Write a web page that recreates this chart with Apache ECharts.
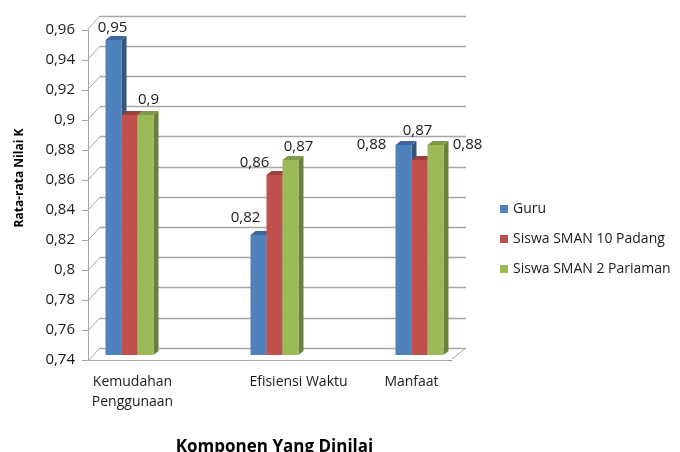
<!DOCTYPE html>
<html>
<head>
<meta charset="utf-8">
<script src="https://cdn.jsdelivr.net/npm/echarts@6/dist/echarts.min.js"></script>
<style>
html, body { margin: 0; padding: 0; background: #fff; }
#chart { width: 680px; height: 452px; }
</style>
</head>
<body>
<div id="chart"></div>
<script>
// data
var categories = ['Kemudahan\nPenggunaan', 'Efisiensi Waktu', 'Manfaat'];
var seriesNames = ['Guru', 'Siswa SMAN 10 Padang', 'Siswa SMAN 2 Pariaman'];
var guruValues = [0.95, 0.82, 0.88];
var padangValues = [0.90, 0.86, 0.87];
var pariamanValues = [0.90, 0.87, 0.88];
var yTicks = [0.74, 0.76, 0.78, 0.80, 0.82, 0.84, 0.86, 0.88, 0.90, 0.92, 0.94, 0.96];
var yMin = 0.74, yMax = 0.96, yStep = 0.02;

// style
var FONT = '"Open Sans", "Noto Sans", sans-serif';
var BAR_W = 16;   // bar front width
var DX = 5, DY = 4; // 3d depth of the bars
var palette = [
	{front: '#4F81BD', side: '#34567F', top: '#3E6699'},
	{front: '#C0504D', side: '#843634', top: '#9E403D'},
	{front: '#9BBB59', side: '#6A803C', top: '#7E9A47'}
];
// label position relative to the bar top (null = not shown, like the original)
var labelOffsets = [
	[[-1, -12], [-13, -17], [-32, 0]],
	[null, [-20, -12], [-2, -29]],
	[[3, -15], [8, -13], [32, 0]]
];
var catLabelPad = [[0, 0, 0, 6], [0, 0, 0, 48], [0, 16, 0, 0]];

var fmt = function (v) {
	return String(+v.toFixed(2)).replace('.', ',');
};

var make3dBar = function (idx) {
	var c = palette[idx];
	return function (params, api) {
		var cat = api.value(0), val = api.value(1);
		var top = api.coord([cat, val]);
		var base = api.coord([cat, yMin]);
		var w = BAR_W;
		var x = top[0] + (idx - 1.5) * w;
		var y = top[1], b = base[1];
		var children = [
			{type: 'polygon', shape: {points: [[x + w, y], [x + w + DX, y - DY], [x + w + DX, b - DY], [x + w, b]]}, style: {fill: c.side}},
			{type: 'polygon', shape: {points: [[x, y], [x + DX, y - DY], [x + w + DX, y - DY], [x + w, y]]}, style: {fill: c.top}},
			{type: 'rect', shape: {x: x, y: y, width: w, height: b - y}, style: {fill: c.front}}
		];
		var off = labelOffsets[idx][params.dataIndex];
		if (off) {
			children.push({
				type: 'text', z2: 10,
				x: x + w / 2 + off[0], y: y + off[1],
				style: {text: fmt(val), align: 'center', verticalAlign: 'middle', fontFamily: FONT, fontSize: 15, fill: '#1a1a1a'}
			});
		}
		return {type: 'group', children: children};
	};
};

// diagonal lines joining the front axis with the back wall
var renderConnector = function (params, api) {
	var p = api.coord([0, api.value(0)]);
	var cs = params.coordSys;
	var lines = [{type: 'line', shape: {x1: cs.x - 12, y1: p[1] + 13, x2: cs.x, y2: p[1]}, style: {stroke: '#A6A6A6', lineWidth: 1}}];
	if (params.dataIndex === 0) {
		lines.push({type: 'line', shape: {x1: cs.x + cs.width - 14, y1: p[1] + 11, x2: cs.x + cs.width, y2: p[1]}, style: {stroke: '#A6A6A6', lineWidth: 1}});
	}
	return {type: 'group', children: lines};
};

var seriesValues = [guruValues, padangValues, pariamanValues];
var series = [{
	type: 'custom', name: 'wall', xAxisIndex: 1, yAxisIndex: 1, silent: true,
	renderItem: renderConnector, clip: false,
	encode: {y: 0},
	data: yTicks.map(function (v) { return [v]; })
}];
seriesNames.forEach(function (name, i) {
	series.push({
		type: 'custom', name: name, xAxisIndex: 2, yAxisIndex: 2,
		itemStyle: {color: palette[i].front},
		renderItem: make3dBar(i), clip: false,
		encode: {x: 0, y: 1},
		data: seriesValues[i].map(function (v, k) { return [k, v]; })
	});
});

var chart = echarts.init(document.getElementById('chart'));
chart.setOption({
	animation: false,
	textStyle: {fontFamily: FONT},
	legend: {
		orient: 'vertical', left: 495, top: 197,
		icon: 'rect', itemWidth: 8, itemHeight: 8, itemGap: 16,
		textStyle: {fontSize: 14, color: '#1a1a1a', fontFamily: FONT},
		data: seriesNames
	},
	graphic: [{
		type: 'text', x: 20, y: 178, rotation: Math.PI / 2,
		style: {text: 'Rata-rata Nilai K', align: 'center', verticalAlign: 'middle',
			fontFamily: FONT, fontSize: 12, fontWeight: 'bold', fill: '#000'}
	}],
	grid: [
		{left: 88, right: 228, top: 30, bottom: 92, outerBoundsMode: 'none'},  // front axis
		{left: 100, right: 214, top: 16, bottom: 104, outerBoundsMode: 'none'}, // back wall
		{left: 57, right: 188, top: 25, bottom: 97, outerBoundsMode: 'none'}    // bars
	],
	xAxis: [
		{gridIndex: 0, type: 'category', data: categories, axisTick: {show: false}, axisLabel: {show: false},
			axisLine: {lineStyle: {color: '#A6A6A6'}}},
		{gridIndex: 1, type: 'category', data: categories, show: false},
		{gridIndex: 2, type: 'category',
			data: categories.map(function (c, k) { return {value: c, textStyle: {padding: catLabelPad[k]}}; }),
			axisLine: {show: false}, axisTick: {show: false},
			axisLabel: {margin: 17, fontSize: 14, lineHeight: 20, color: '#1a1a1a', fontFamily: FONT},
			name: 'Komponen Yang Dinilai', nameLocation: 'middle', nameGap: 84,
			nameTextStyle: {fontSize: 17, fontWeight: 'bold', color: '#000', fontFamily: FONT}}
	],
	yAxis: [
		{gridIndex: 0, type: 'value', min: yMin, max: yMax, interval: yStep,
			axisLine: {show: true, lineStyle: {color: '#A6A6A6'}},
			axisTick: {show: true, length: 6, lineStyle: {color: '#A6A6A6'}},
			splitLine: {show: false},
			axisLabel: {formatter: fmt, fontSize: 15, color: '#1a1a1a', margin: 13, fontFamily: FONT}},
		{gridIndex: 1, type: 'value', min: yMin, max: yMax, interval: yStep,
			axisLine: {show: false}, axisTick: {show: false}, axisLabel: {show: false},
			splitLine: {lineStyle: {color: '#A6A6A6', width: 1.3}}},
		{gridIndex: 2, type: 'value', min: yMin, max: yMax, interval: yStep, show: false, splitLine: {show: false}}
	],
	series: series
});
</script>
</body>
</html>
